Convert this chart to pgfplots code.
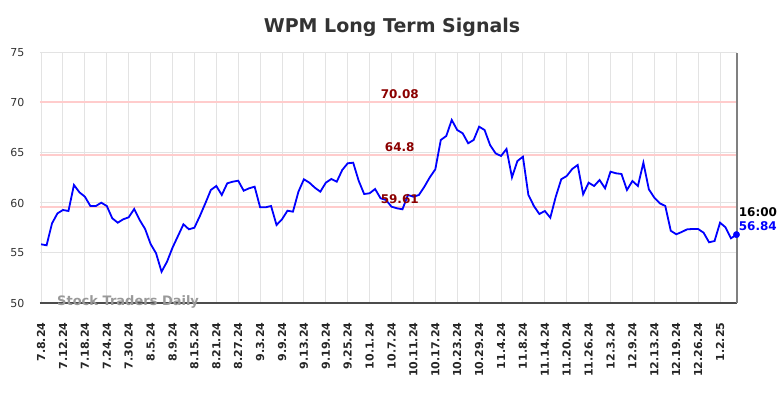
\documentclass[border=0pt]{standalone}
\usepackage{fontspec}
\setmainfont{DejaVu Sans}
\usepackage{pgfplots}
\usepackage{pgfplotstable}
\pgfplotsset{compat=1.18}
\definecolor{sigred}{HTML}{FFCCCC}
\definecolor{labred}{HTML}{8B0000}
\definecolor{gridc}{HTML}{E3E3E3}
\definecolor{titlec}{HTML}{333333}
\pgfplotstableread{
i v
0 55.87
1 55.77
2 57.97
3 58.97
4 59.30
5 59.20
6 61.80
7 61.07
8 60.63
9 59.70
10 59.70
11 60.03
12 59.70
13 58.47
14 58.03
15 58.37
16 58.57
17 59.40
18 58.30
19 57.40
20 55.90
21 54.97
22 53.13
23 54.13
24 55.53
25 56.70
26 57.87
27 57.37
28 57.53
29 58.70
30 59.97
31 61.30
32 61.70
33 60.80
34 61.97
35 62.13
36 62.23
37 61.23
38 61.47
39 61.63
40 59.57
41 59.57
42 59.70
43 57.80
44 58.37
45 59.23
46 59.13
47 61.13
48 62.37
49 62.03
50 61.53
51 61.13
52 62.03
53 62.40
54 62.13
55 63.30
56 63.97
57 64.03
58 62.23
59 60.90
60 60.97
61 61.40
62 60.47
63 60.30
64 59.63
65 59.47
66 59.37
67 60.80
68 60.63
69 60.80
70 61.63
71 62.57
72 63.37
73 66.30
74 66.70
75 68.30
76 67.30
77 66.97
78 65.97
79 66.30
80 67.63
81 67.30
82 65.80
83 64.97
84 64.70
85 65.40
86 62.57
87 64.20
88 64.63
89 60.80
90 59.70
91 58.90
92 59.20
93 58.53
94 60.63
95 62.37
96 62.70
97 63.40
98 63.80
99 60.87
100 62.03
101 61.70
102 62.30
103 61.47
104 63.13
105 62.97
106 62.90
107 61.30
108 62.20
109 61.70
110 64.03
111 61.37
112 60.53
113 59.97
114 59.70
115 57.23
116 56.87
117 57.10
118 57.37
119 57.40
120 57.40
121 57.03
122 56.07
123 56.20
124 58.03
125 57.57
126 56.47
127 56.84
}\wpm
\begin{document}
\begin{tikzpicture}[x=1pt,y=1pt]
\useasboundingbox (0,0) rectangle (784,398);
\node[font=\fontsize{19}{22}\selectfont\bfseries, text=titlec] at (392,371) {WPM Long Term Signals};
\begin{axis}[
  at={(40pt,95pt)}, anchor=south west,
  scale only axis, width=697pt, height=250pt,
  xmin=-0.2, xmax=127.1, ymin=50, ymax=75,
  ytick={50,55,...,75},
  xtick={0,4,...,124},
  xticklabels={7.8.24,7.12.24,7.18.24,7.24.24,7.30.24,8.5.24,8.9.24,8.15.24,8.21.24,8.27.24,9.3.24,9.9.24,9.13.24,9.19.24,9.25.24,10.1.24,10.7.24,10.11.24,10.17.24,10.23.24,10.29.24,11.4.24,11.8.24,11.14.24,11.20.24,11.26.24,12.3.24,12.9.24,12.13.24,12.19.24,12.26.24,1.2.25},
  xticklabel style={rotate=90, anchor=east, font=\fontsize{11}{13}\selectfont\bfseries, text=black!85, xshift=-16pt},
  yticklabel style={font=\fontsize{11}{13}\selectfont, text=black!80, xshift=-12pt},
  /pgf/number format/assume math mode=true,
  major tick length=0pt,
  grid=major,
  major grid style={gridc, line width=1pt},
  axis line style={draw=none},
  clip=false,
]
\addplot[sigred, line width=2.5pt, forget plot] coordinates {(-0.2,70.08) (127.1,70.08)};
\addplot[sigred, line width=2.5pt, forget plot] coordinates {(-0.2,64.8) (127.1,64.8)};
\addplot[sigred, line width=2.5pt, forget plot] coordinates {(-0.2,59.61) (127.1,59.61)};
\draw[black!70, line width=1.2pt] (axis cs:-0.2,50) -- (axis cs:127.1,50);
\draw[black!50, line width=1.8pt] (axis cs:127.1,50) -- (axis cs:127.1,75);
\node[font=\fontsize{13}{15}\selectfont\bfseries, text=black!40, anchor=west] at (axis cs:2.3,50.15) {Stock Traders Daily};
\addplot[blue, line width=1.8pt, no markers] table[x=i, y=v] {\wpm};
\addplot[blue, only marks, mark=*, mark size=3.2pt] coordinates {(127,56.84)};
\node[font=\fontsize{12}{14}\selectfont\bfseries, text=labred, anchor=south] at (axis cs:65.5,70.05) {70.08};
\node[font=\fontsize{12}{14}\selectfont\bfseries, text=labred, anchor=south] at (axis cs:65.5,64.77) {64.8};
\node[font=\fontsize{12}{14}\selectfont\bfseries, text=labred, anchor=south] at (axis cs:65.5,59.58) {59.61};
\node[font=\fontsize{12}{14}\selectfont\bfseries, text=black, anchor=west, inner sep=0pt] at (axis cs:127.4,59.1) {16:00};
\node[font=\fontsize{12}{14}\selectfont\bfseries, text=blue, anchor=west, inner sep=0pt] at (axis cs:127.4,57.7) {56.84};
\end{axis}
\end{tikzpicture}
\end{document}
